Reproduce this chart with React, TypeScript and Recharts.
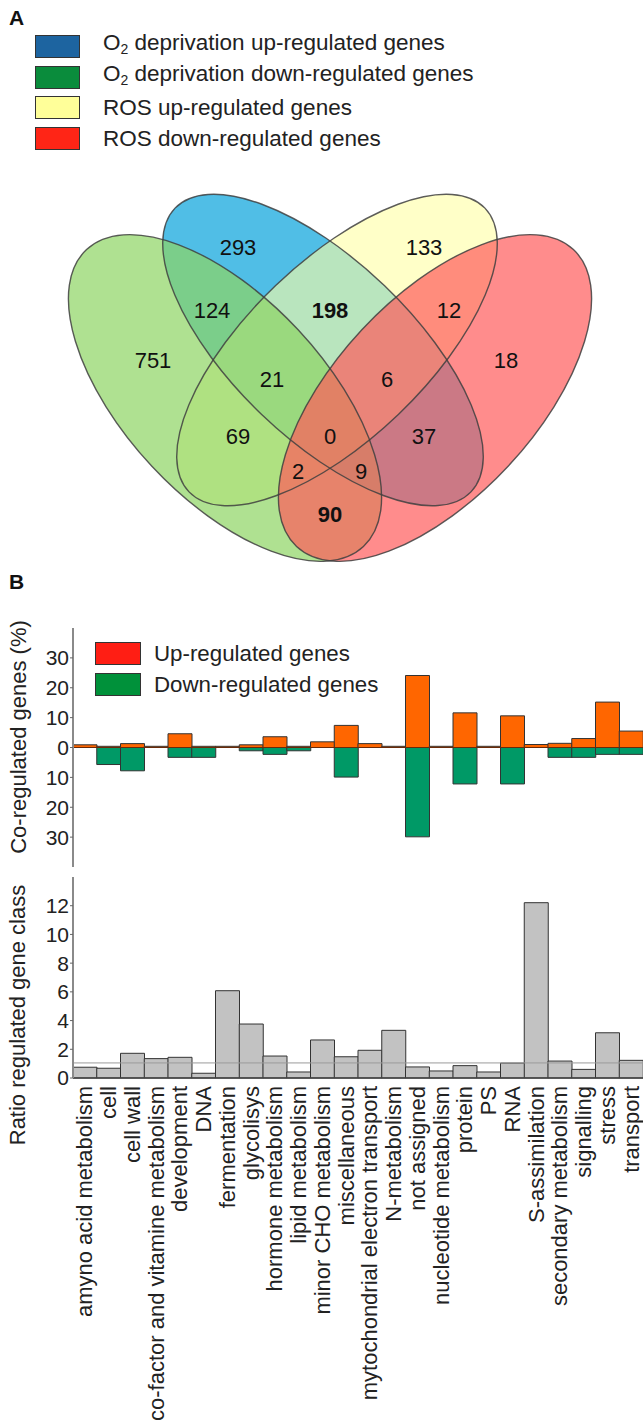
import React from "react";
import {
  BarChart,
  Bar,
  XAxis,
  YAxis,
  ReferenceLine,
  ScatterChart,
  Scatter,
  Legend,
} from "recharts";

const FONT = "Arial, 'Liberation Sans', Helvetica, sans-serif";

// ---- panel A: Venn ----
const vennSetLabels = [
  "O2 deprivation up-regulated genes",
  "O2 deprivation down-regulated genes",
  "ROS up-regulated genes",
  "ROS down-regulated genes",
];
const vennLegendColors = ["#1D64A0", "#0A8C3C", "#FFFF99", "#FF2516"];

// region counts
const vennCounts = [293, 133, 124, 198, 12, 751, 21, 6, 18, 69, 0, 37, 2, 9, 90];
const vennBold = [198, 90];

// ---- panel B ----
const categories = [
  "amyno acid metabolism",
  "cell",
  "cell wall",
  "co-factor and vitamine metabolism",
  "development",
  "DNA",
  "fermentation",
  "glycolisys",
  "hormone metabolism",
  "lipid metabolism",
  "minor CHO metabolism",
  "miscellaneous",
  "mytochondrial electron transport",
  "N-metabolism",
  "not assigned",
  "nucleotide metabolism",
  "protein",
  "PS",
  "RNA",
  "S-assimilation",
  "secondary metabolism",
  "signalling",
  "stress",
  "transport",
];
const upRegulated = [0.9, 0.4, 1.3, 0.4, 4.6, 0.4, 0.4, 0.9, 3.6, 0.4, 1.9, 7.4, 1.3, 0.4, 24.1, 0.4, 11.6, 0.4, 10.6, 1.0, 1.4, 3.0, 15.2, 5.5];
const downRegulated = [0, 5.7, 7.8, 0, 3.3, 3.3, 0, 1.1, 2.3, 1.1, 0, 9.9, 0, 0, 29.9, 0, 12.2, 0, 12.2, 0, 3.3, 3.3, 2.3, 2.3];
const ratioClass = [0.75, 0.68, 1.72, 1.35, 1.44, 0.33, 6.08, 3.76, 1.53, 0.42, 2.65, 1.48, 1.93, 3.32, 0.77, 0.49, 0.86, 0.42, 1.04, 12.21, 1.18, 0.6, 3.15, 1.23];
const coRegTicks = [-30, -20, -10, 0, 10, 20, 30];
const ratioTicks = [0, 2, 4, 6, 8, 10, 12];
const coRegLegend = ["Up-regulated genes", "Down-regulated genes"];

// ---- Venn layout (pixel space of the Venn chart) ----
// inner ellipses (blue, yellow) are slimmer than the outer ones (green, red)
const ellipses = [
  { x: 323, y: 350, a: 205, b: 89, angle: 43.8, fill: "#05A2DB", op: 0.7 },
  { x: 337, y: 350, a: 205, b: 89, angle: -43.8, fill: "#FFFFA3", op: 0.6 },
  { x: 225, y: 398, a: 203, b: 100, angle: 47, fill: "#8DD462", op: 0.7 },
  { x: 435, y: 398, a: 203, b: 100, angle: -47, fill: "#FF5B5B", op: 0.7 },
];
const regionPos = [
  [238, 247], [424, 247], [212, 310], [330, 310], [449, 310],
  [153, 360], [272, 379], [387, 379], [506, 360], [238, 436],
  [330, 436], [424, 436], [298, 471], [361, 471], [330, 514],
];
const countData = vennCounts.map((v, i) => ({ x: regionPos[i][0], y: regionPos[i][1], value: v }));

const coRegData = categories.map((c, i) => ({ name: c, up: upRegulated[i], down: -downRegulated[i] }));
const ratioData = categories.map((c, i) => ({ name: c, ratio: ratioClass[i] }));

const EllipseFill = (props: any) => {
  const { cx, cy, payload } = props;
  return (
    <ellipse cx={cx} cy={cy} rx={payload.a} ry={payload.b} transform={`rotate(${payload.angle} ${cx} ${cy})`}
      fill={payload.fill} fillOpacity={payload.op} stroke="none" />
  );
};
const EllipseOutline = (props: any) => {
  const { cx, cy, payload } = props;
  return (
    <ellipse cx={cx} cy={cy} rx={payload.a} ry={payload.b} transform={`rotate(${payload.angle} ${cx} ${cy})`}
      fill="none" stroke="#404040" strokeOpacity={0.85} strokeWidth={1.4} />
  );
};
const CountLabel = (props: any) => {
  const { cx, cy, payload } = props;
  return (
    <text x={cx} y={cy} textAnchor="middle" dominantBaseline="central" fontSize={22} fontFamily={FONT}
      fontWeight={vennBold.includes(payload.value) ? "bold" : "normal"} fill="#111">
      {payload.value}
    </text>
  );
};

const setLabel = (s: string) =>
  s.startsWith("O2") ? (
    <span>O<sub style={{ fontSize: 14, verticalAlign: -4 }}>2</sub>{s.slice(2)}</span>
  ) : (
    <span>{s}</span>
  );

const VennLegend = () => (
  <div style={{ fontFamily: FONT, fontSize: 22.5, color: "#222" }}>
    {vennSetLabels.map((s, i) => (
      <div key={s} style={{ display: "flex", alignItems: "center", height: 30.7 }}>
        <div style={{ width: 43, height: 21, background: vennLegendColors[i], border: "1.5px solid #333", marginRight: 23 }} />
        <div style={{ whiteSpace: "nowrap", lineHeight: "25px" }}>{setLabel(s)}</div>
      </div>
    ))}
  </div>
);

const barLegendColors = ["#FF1E14", "#00913A"];
const BarLegend = () => (
  <div style={{ fontFamily: FONT, fontSize: 22.3, color: "#222" }}>
    {coRegLegend.map((s, i) => (
      <div key={s} style={{ display: "flex", alignItems: "center", height: 31 }}>
        <div style={{ width: 44, height: 21, background: barLegendColors[i], border: "1.5px solid #333", marginRight: 13 }} />
        <div style={{ whiteSpace: "nowrap", lineHeight: "25px" }}>{s}</div>
      </div>
    ))}
  </div>
);

const rotatedLabel = (text: string, x: number, y: number) => () => (
  <text x={x} y={y} transform={`rotate(-90 ${x} ${y})`} textAnchor="middle" dominantBaseline="central"
    fontSize={22} fontFamily={FONT} fill="#222">
    {text}
  </text>
);

const CategoryTick = (props: any) => {
  const { x, y, payload } = props;
  return (
    <text x={x} y={y} transform={`rotate(-90 ${x} ${y})`} textAnchor="end" dominantBaseline="central"
      fontSize={22} fontFamily={FONT} fill="#222">
      {payload.value}
    </text>
  );
};

const frame = { stroke: "#8a8a8a", strokeWidth: 2 };
const tickStyle = { fontSize: 21, fill: "#222", fontFamily: FONT };

export default function App() {
  return (
    <div style={{ position: "absolute", left: 0, top: 0, width: 643, height: 1427, overflow: "hidden", background: "#fff", fontFamily: FONT }}>
      <div style={{ position: "absolute", left: 9, top: 6, fontSize: 21, fontWeight: "bold", color: "#111" }}>A</div>
      <div style={{ position: "absolute", left: 9, top: 570, fontSize: 21, fontWeight: "bold", color: "#111" }}>B</div>

      <div style={{ position: "absolute", left: 0, top: 0 }}>
        <ScatterChart width={643} height={590} margin={{ top: 0, right: 0, bottom: 0, left: 0 }}>
          <XAxis type="number" dataKey="x" domain={[0, 643]} hide />
          <YAxis type="number" dataKey="y" domain={[0, 590]} reversed hide />
          <Scatter data={ellipses} shape={EllipseFill} isAnimationActive={false} />
          <Scatter data={ellipses} shape={EllipseOutline} isAnimationActive={false} />
          <Scatter data={countData} shape={CountLabel} isAnimationActive={false} />
          <Legend content={VennLegend} layout="horizontal" verticalAlign="middle" align="center"
            wrapperStyle={{ top: 31, left: 35, width: 520 }} />
        </ScatterChart>
      </div>

      <div style={{ position: "absolute", left: 0, top: 600 }}>
        <BarChart width={660} height={280} data={coRegData} margin={{ top: 28, right: 17, bottom: 13, left: 0 }}
          barCategoryGap={0} barGap={0} stackOffset="sign">
          <XAxis dataKey="name" height={0} tick={false} tickLine={false} axisLine={frame} />
          <XAxis xAxisId="top" orientation="top" dataKey="name" height={0} tick={false} tickLine={false} axisLine={frame} />
          <YAxis domain={[-40, 40]} ticks={coRegTicks} interval={0} tickFormatter={(v: number) => String(Math.abs(v))}
            width={73} axisLine={frame} tickLine={{ stroke: "#666" }} tickSize={3} tickMargin={1} tick={tickStyle}
            label={rotatedLabel("Co-regulated genes (%)", 18, 137)} />
          <Bar dataKey="up" stackId="s" fill="#FF6600" stroke="#333" strokeWidth={1} isAnimationActive={false} />
          <Bar dataKey="down" stackId="s" fill="#009966" stroke="#333" strokeWidth={1} isAnimationActive={false} />
          <ReferenceLine y={0} stroke="#6a2a08" strokeWidth={1} />
          <Legend content={BarLegend} layout="horizontal" verticalAlign="middle" align="center"
            wrapperStyle={{ top: 38, left: 95, width: 330 }} />
        </BarChart>
      </div>

      <div style={{ position: "absolute", left: 0, top: 860 }}>
        <BarChart width={660} height={567} data={ratioData} margin={{ top: 17, right: 17, bottom: 0, left: 0 }}
          barCategoryGap={0} barGap={0}>
          <XAxis dataKey="name" interval={0} height={349} tickLine={false} axisLine={{ stroke: "#444", strokeWidth: 1.5 }}
            tick={<CategoryTick />} />
          <XAxis xAxisId="top" orientation="top" dataKey="name" height={0} tick={false} tickLine={false} axisLine={frame} />
          <YAxis domain={[0, 14]} ticks={ratioTicks} interval={0} width={73} axisLine={frame}
            tickLine={{ stroke: "#666" }} tickSize={3} tickMargin={1} tick={tickStyle}
            label={rotatedLabel("Ratio regulated gene class", 17, 155)} />
          <Bar dataKey="ratio" fill="#C2C2C2" stroke="#333" strokeWidth={1} isAnimationActive={false} />
          <ReferenceLine y={1.05} stroke="#9a9a9a" strokeWidth={1} />
        </BarChart>
      </div>
    </div>
  );
}
